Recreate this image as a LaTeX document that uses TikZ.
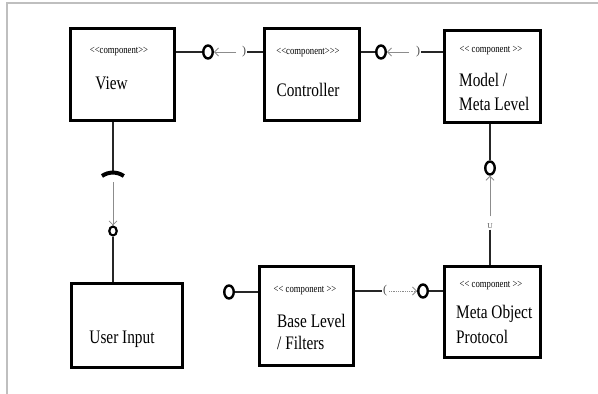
\documentclass[tikz,border=0pt]{standalone}
\usepackage{fontspec}
\setmainfont{Liberation Serif}
\usepackage{graphicx}
\usetikzlibrary{shapes.geometric,arrows.meta}
\newcommand{\stretchtxt}[1]{\scalebox{1}[1.25]{#1}}
\newcommand{\lt}{<\kern0pt<}
\newcommand{\gt}{>\kern0pt>}
\begin{document}
\begin{tikzpicture}[x=1pt,y=-1pt,
  comp/.style={draw=black,line width=2.6pt,rectangle,inner sep=0pt},
  stereo/.style={font=\fontsize{8.7}{10}\selectfont,inner sep=0pt},
  big/.style={font=\fontsize{15.3}{18}\selectfont,inner sep=0pt},
  lolli/.style={draw=black,line width=2.4pt,ellipse,inner sep=0pt,minimum width=9.5pt,minimum height=13pt},
  smalllolli/.style={lolli,line width=2.2pt,minimum width=7.5pt,minimum height=9pt},
  conn/.style={draw=black!85,line width=1.2pt},
  arr/.style={draw=black!45,line width=0.8pt,-{Straight Barb[length=4pt,width=8pt]}},
  sock/.style={text=black!70,font=\fontsize{12}{13}\selectfont,inner sep=0pt},
  socketarc/.style={draw=black,line width=4pt},
  ulabel/.style={text=black!70,font=\fontsize{7.5}{8}\selectfont,inner sep=1pt}
]
\useasboundingbox (0,0) rectangle (598,394);
\draw[black!25,line width=1.2pt] (7,394) -- (7,3) -- (598,3);

% boxes
\node[comp,minimum width=104pt,minimum height=92pt] (view) at (122.5,74.5) {};
\node[comp,minimum width=95pt,minimum height=92pt] (ctrl) at (312,74.5) {};
\node[comp,minimum width=96pt,minimum height=92pt] (model) at (492.5,76.5) {};
\node[comp,minimum width=111pt,minimum height=84pt] (user) at (127,325.5) {};
\node[comp,minimum width=94pt,minimum height=99pt] (base) at (306.5,316) {};
\node[comp,minimum width=96pt,minimum height=91pt] (mop) at (492.5,312) {};

% texts
\node[stereo] (viewst) at (119,52) {\stretchtxt{\lt component\gt}};
\node[big] (viewtx) at (111.5,83) {\stretchtxt{View}};
\node[stereo] (ctrlst) at (308,53) {\stretchtxt{\lt component\gt\kern0pt>}};
\node[big] (ctrltx) at (308,90) {\stretchtxt{Controller}};
\node[stereo] (modelst) at (491,51) {\stretchtxt{\lt{} component \gt}};
\node[big,anchor=west] (modeltx1) at (459,80) {\stretchtxt{Model /}};
\node[big,anchor=west] (modeltx2) at (459,104) {\stretchtxt{Meta Level}};
\node[big] (usertx) at (122,339) {\stretchtxt{User Input}};
\node[stereo] (basest) at (305,291) {\stretchtxt{\lt{} component \gt}};
\node[big,anchor=west] (basetx1) at (277,321) {\stretchtxt{Base Level}};
\node[big,anchor=west] (basetx2) at (277,343) {\stretchtxt{/ Filters}};
\node[stereo] (mopst) at (491,286) {\stretchtxt{\lt{} component \gt}};
\node[big,anchor=west] (moptx1) at (456,314) {\stretchtxt{Meta Object}};
\node[big,anchor=west] (moptx2) at (456,337) {\stretchtxt{Protocol}};

% lollipops and sockets
\node[lolli] (c1) at (208,52) {};
\node[sock] (s1) at (244,52) {)};
\node[lolli] (c2) at (381,52) {};
\node[sock] (s2) at (418,52) {)};
\node[lolli] (c3) at (490,168) {};
\node[ulabel] (u) at (490,226) {U};
\node[lolli] (c4) at (229,292) {};
\node[sock] (s3) at (385,291) {(};
\node[lolli] (c5) at (423,291) {};
\coordinate (skv) at (113,172);
\node[smalllolli] (c6) at (113,231) {};

% top row
\draw[conn] (c1) -- (c1 -| view.east);
\draw[arr] ([xshift=-8pt]s1.center) -- (c1);
\draw[conn] ([xshift=3pt]s1.center) -- (s1 -| ctrl.west);
\draw[conn] (c2) -- (c2 -| ctrl.east);
\draw[arr] ([xshift=-9pt]s2.center) -- (c2);
\draw[conn] ([xshift=3pt]s2.center) -- (s2 -| model.west);

% model - mop
\draw[conn] (c3) -- (c3 |- model.south);
\draw[arr] ([yshift=6pt]u.north) -- (c3);
\draw[conn] (u.south) -- (u |- mop.north);

% base - mop
\draw[conn] (c4) -- (c4 -| base.west);
\draw[conn] ([xshift=-3pt]s3.center) -- (s3 -| base.east);
\draw[arr,densely dotted] ([xshift=4pt]s3.center) -- (c5);
\draw[conn] (c5) -- (c5 -| mop.west);

% view - user
\draw[conn] (skv) -- (skv |- view.south);
\draw[socketarc] ([shift={(-11,4)}]skv) arc[start angle=235,end angle=305,radius=19];
\draw[arr] ([yshift=-10pt]skv) -- (c6);
\draw[conn] (c6) -- (c6 |- user.north);
\end{tikzpicture}
\end{document}
